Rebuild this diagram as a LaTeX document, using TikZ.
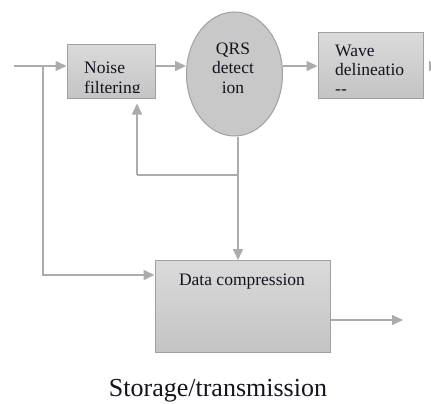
\documentclass[tikz,border=0pt]{standalone}
\usepackage{fontspec}
\setmainfont{Liberation Serif}
\usetikzlibrary{arrows.meta,shapes.geometric}
\definecolor{linegray}{RGB}{172,172,172}
\definecolor{boxedge}{RGB}{160,160,160}
\definecolor{boxtop}{RGB}{218,218,218}
\definecolor{boxbot}{RGB}{196,196,196}
\definecolor{ellfill}{RGB}{200,200,200}
\definecolor{txt}{RGB}{20,20,30}
\begin{document}
\begin{tikzpicture}[x=1pt,y=-1pt,
  blk/.style={draw=boxedge,line width=1pt,top color=boxtop,bottom color=boxbot,inner sep=0pt},
  ell/.style={ellipse,draw=boxedge,line width=1pt,fill=ellfill,inner sep=0pt},
  lbl/.style={font=\fontsize{17.5}{19.5}\selectfont,text=txt,inner sep=0pt,align=left},
  con/.style={draw=linegray,line width=1.6pt},
  arr/.style={con,-{Triangle[length=11pt,width=10pt]}}]
\clip (0,0) rectangle (431,404);
\useasboundingbox (0,0) rectangle (431,404);
% blocks
\node[blk,minimum width=88pt,minimum height=53pt] (noise) at (111,71.5) {};
\node[ell,minimum width=96pt,minimum height=124pt] (qrs) at (234.5,74) {};
\node[blk,minimum width=105pt,minimum height=65pt] (wave) at (370.5,65.5) {};
\node[blk,minimum width=175pt,minimum height=92pt] (comp) at (242.5,306.5) {};
% texts
\begin{scope}
  \clip (noise.north west) rectangle ([yshift=6pt]noise.south east);
  \node[lbl,anchor=base west] (noisetxt) at (84,93) {Noise\\filtering};
\end{scope}
\node[lbl,align=center,anchor=base] (qrstxt) at (233,93) {QRS\\detect\\ion};
\begin{scope}
  \clip (wave.north west) rectangle ([yshift=3pt]wave.south east);
  \node[lbl,anchor=base west] (wavetxt) at (335,95) {Wave\\delineatio\\-{}-};
\end{scope}
\node[lbl,anchor=base] (comptxt) at (242,285) {Data compression};
\node[font=\fontsize{26}{30}\selectfont,text=txt,inner sep=0pt,anchor=base] (cap) at (218,396) {Storage/transmission};
% connector points
\coordinate (in) at (14,66);
\coordinate (br) at (43,66);
\coordinate (bj) at (43,275);
\coordinate (fb) at (238,175);
\coordinate (fbL) at (137,175);
\coordinate (wout) at (440,66);
\coordinate (cout) at (403,320);
% connectors
\draw[arr] (in) -- (noise.west |- in);
\draw[arr] (br) -- (bj) -- (comp.west |- bj);
\draw[arr] (noise.east |- in) -- (qrs.west |- in);
\draw[arr] (qrs.east |- in) -- (wave.west |- in);
\draw[arr,shorten <=5pt] (wave.east |- in) -- (wout);
\draw[con] (qrs.south -| fb) -- (fb) -- (fbL);
\draw[arr,shorten >=5pt] (fbL) -- (noise.south -| fbL);
\draw[arr] (fb) -- (comp.north -| fb);
\draw[arr] (comp.east |- cout) -- (cout);
\end{tikzpicture}
\end{document}
